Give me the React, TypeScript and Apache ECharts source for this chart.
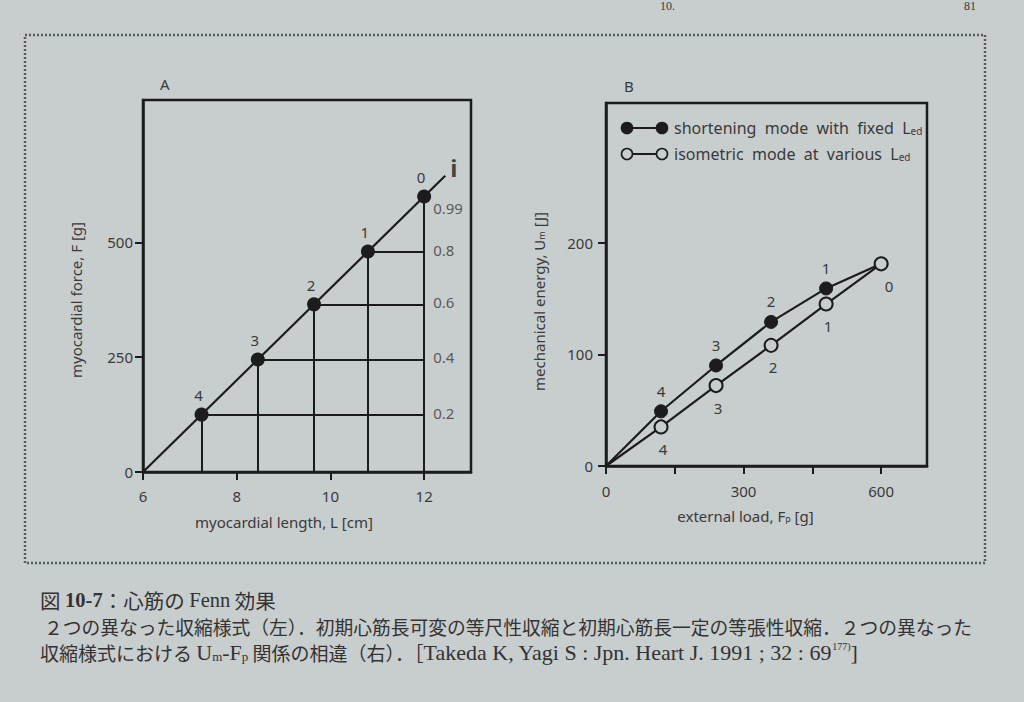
import React, { useEffect, useRef } from 'react';
import * as echarts from 'echarts';

// ---------- Panel A data ----------
const A_LENGTH = [7.25, 8.45, 9.65, 10.8, 12];
const A_FORCE = [125, 245, 365, 480, 600];
const A_POINT_LABELS = ['4', '3', '2', '1', '0'];
const A_RATIO_LABELS = ['0.2', '0.4', '0.6', '0.8', '0.99'];
const A_LINE_START = [6, 0];
const A_LINE_END = [12.45, 645];
const A_X_TICKS = [6, 8, 10, 12];
const A_Y_TICKS = [0, 250, 500];

// ---------- Panel B data ----------
const B_LOAD = [0, 120, 240, 360, 480, 600];
const B_SHORTENING = [0, 49, 90, 129, 159, 181];
const B_ISOMETRIC = [0, 35, 72, 108, 145, 181];
const B_SHORT_LABELS = ['', '4', '3', '2', '1', ''];
const B_ISO_LABELS = ['', '4', '3', '2', '1', '0'];
const B_X_TICKS = [0, 150, 300, 450, 600];
const B_X_LABELS = [0, 300, 600];
const B_Y_TICKS = [0, 100, 200];

const BG = '#c8cdce';
const INK = '#1c1c1c';
const TEXT = '#3a3a3a';
const FONT = "'Noto Sans', 'DejaVu Sans', sans-serif";
const CAP_FONT = "'Liberation Serif', 'Noto Sans CJK JP', serif";
const CJK_FONT = "'Noto Sans CJK JP', serif";

function buildOption() {
  const lastL = A_LENGTH[A_LENGTH.length - 1];
  const gridLines: any[] = [];
  A_LENGTH.forEach((l, i) => {
    gridLines.push([{ coord: [l, A_FORCE[i]] }, { coord: [l, 0] }]);
    if (l !== lastL) gridLines.push([{ coord: [l, A_FORCE[i]] }, { coord: [lastL, A_FORCE[i]] }]);
  });

  const axisCommon = (ticks: number[], labels: number[]) => ({
    type: 'value',
    axisLine: { show: true, onZero: false, lineStyle: { color: INK, width: 2.5 } },
    axisTick: { show: true, length: 8, lineStyle: { color: INK, width: 2 }, customValues: ticks },
    axisLabel: { customValues: labels, fontSize: 15, color: TEXT, fontFamily: FONT },
    splitLine: { show: false },
  });

  const legendItem = (y: number, filled: boolean, rich: string) => ({
    type: 'group',
    children: [
      { type: 'line', shape: { x1: 627, y1: y, x2: 662, y2: y }, style: { stroke: INK, lineWidth: 2 } },
      { type: 'circle', shape: { cx: 627, cy: y, r: 5.5 }, style: { fill: filled ? INK : BG, stroke: INK, lineWidth: 1.6 } },
      { type: 'circle', shape: { cx: 662, cy: y, r: 5.5 }, style: { fill: filled ? INK : BG, stroke: INK, lineWidth: 1.6 } },
      {
        type: 'text', x: 674, y,
        style: {
          text: rich, fontSize: 16, fill: TEXT, fontFamily: FONT, verticalAlign: 'middle',
          rich: { s: { fontSize: 10, fill: TEXT, fontFamily: FONT, verticalAlign: 'bottom', padding: [6, 0, 0, 0] } },
        },
      },
    ],
  });

  return {
    animation: false,
    backgroundColor: BG,
    textStyle: { fontFamily: FONT },
    grid: [
      { left: 143, top: 100, width: 328, height: 372, show: true, borderColor: INK, borderWidth: 2.5, backgroundColor: 'transparent' },
      { left: 606, top: 103, width: 321, height: 363, show: true, borderColor: INK, borderWidth: 2.5, backgroundColor: 'transparent' },
    ],
    xAxis: [
      {
        ...axisCommon(A_X_TICKS, A_X_TICKS), gridIndex: 0, min: 6, max: 13,
        axisLabel: { customValues: A_X_TICKS, fontSize: 15, color: TEXT, fontFamily: FONT, margin: 16 },
        name: 'myocardial length, L [cm]', nameLocation: 'middle', nameGap: 42,
        nameTextStyle: { fontSize: 15, color: TEXT, fontFamily: FONT, padding: [0, 46, 0, 0] },
      },
      {
        ...axisCommon(B_X_TICKS, B_X_LABELS), gridIndex: 1, min: 0, max: 700,
        axisLabel: { customValues: B_X_LABELS, fontSize: 15, color: TEXT, fontFamily: FONT, margin: 17 },
        name: 'external load, F{s|p} [g]', nameLocation: 'middle', nameGap: 42,
        nameTextStyle: {
          fontSize: 15, color: TEXT, fontFamily: FONT, padding: [0, 42, 0, 0],
          rich: { s: { fontSize: 9, color: TEXT, fontFamily: FONT, verticalAlign: 'bottom', padding: [6, 0, 0, 0] } },
        },
      },
    ],
    yAxis: [
      {
        ...axisCommon(A_Y_TICKS, A_Y_TICKS), gridIndex: 0, min: 0, max: 810,
        axisLabel: { customValues: A_Y_TICKS, fontSize: 15, color: TEXT, fontFamily: FONT, margin: 10 },
        name: 'myocardial force, F [g]', nameLocation: 'middle', nameGap: 60,
        nameTextStyle: { fontSize: 15, color: TEXT, fontFamily: FONT, padding: [0, 28, 0, 0] },
      },
      {
        ...axisCommon(B_Y_TICKS, B_Y_TICKS), gridIndex: 1, min: 0, max: 325,
        axisLabel: { customValues: B_Y_TICKS, fontSize: 15, color: TEXT, fontFamily: FONT, margin: 13 },
        name: 'mechanical energy, U{s|m} [J]', nameLocation: 'middle', nameGap: 60,
        nameTextStyle: {
          fontSize: 15, color: TEXT, fontFamily: FONT, padding: [0, 34, 0, 0],
          rich: { s: { fontSize: 9, color: TEXT, fontFamily: FONT, verticalAlign: 'bottom', padding: [6, 0, 0, 0] } },
        },
      },
    ],
    series: [
      // Panel A: force-length line
      {
        type: 'line', xAxisIndex: 0, yAxisIndex: 0, data: [A_LINE_START, A_LINE_END],
        showSymbol: false, symbol: 'none', lineStyle: { color: INK, width: 2.2 }, z: 3, silent: true,
      },
      // Panel A: points with grid lines
      {
        type: 'scatter', xAxisIndex: 0, yAxisIndex: 0,
        data: A_LENGTH.map((l, i) => [l, A_FORCE[i]]),
        symbol: 'circle', symbolSize: 14, itemStyle: { color: INK, opacity: 1 }, z: 5,
        label: {
          show: true, position: 'top', distance: 5, offset: [-3, 0], fontSize: 15, color: TEXT, fontFamily: FONT,
          formatter: (p: any) => A_POINT_LABELS[p.dataIndex],
        },
        markLine: {
          silent: true, symbol: ['none', 'none'], label: { show: false },
          lineStyle: { color: INK, width: 2, type: 'solid', opacity: 1 }, data: gridLines,
        },
      },
      // Panel A: ratio labels on right
      {
        type: 'scatter', xAxisIndex: 0, yAxisIndex: 0,
        data: A_FORCE.map((f, i) => ({
          value: [lastL, f],
          label: { offset: i === A_FORCE.length - 1 ? [0, 12] : [0, -2] },
        })),
        symbolSize: 0, silent: true,
        label: {
          show: true, position: 'right', distance: 9, fontSize: 15, color: TEXT, fontFamily: FONT,
          formatter: (p: any) => A_RATIO_LABELS[p.dataIndex],
        },
      },
      // Panel A: "i" label at the end of line
      {
        type: 'scatter', xAxisIndex: 0, yAxisIndex: 0, data: [A_LINE_END], symbolSize: 0, silent: true,
        label: {
          show: true, position: 'right', distance: 5, offset: [0, -8], formatter: 'i',
          fontSize: 24, fontWeight: 'bold', color: INK, fontFamily: FONT,
        },
      },
      // Panel B: shortening mode
      {
        type: 'line', name: 'shortening mode with fixed Led', xAxisIndex: 1, yAxisIndex: 1,
        data: B_LOAD.map((x, i) => ({ value: [x, B_SHORTENING[i]], symbolSize: i === 0 ? 0 : 13 })),
        symbol: 'circle', showSymbol: true, lineStyle: { color: INK, width: 2.2 },
        itemStyle: { color: INK, borderColor: INK, borderWidth: 1 }, z: 3,
        label: {
          show: true, position: 'top', distance: 6, fontSize: 15, color: TEXT, fontFamily: FONT,
          formatter: (p: any) => B_SHORT_LABELS[p.dataIndex],
        },
      },
      // Panel B: isometric mode
      {
        type: 'line', name: 'isometric mode at various Led', xAxisIndex: 1, yAxisIndex: 1,
        data: B_LOAD.map((x, i) => ({
          value: [x, B_ISOMETRIC[i]], symbolSize: i === 0 ? 0 : 13,
          label: { offset: i === B_LOAD.length - 1 ? [8, 0] : [2, 0] },
        })),
        symbol: 'circle', showSymbol: true, lineStyle: { color: INK, width: 2.2 },
        itemStyle: { color: BG, borderColor: INK, borderWidth: 2 }, z: 4,
        label: {
          show: true, position: 'bottom', distance: 7, fontSize: 15, color: TEXT, fontFamily: FONT,
          formatter: (p: any) => B_ISO_LABELS[p.dataIndex],
        },
      },
    ],
    graphic: [
      {
        type: 'rect', shape: { x: 25, y: 35, width: 960, height: 528 }, z: -1, silent: true,
        style: { fill: 'none', stroke: '#5a5a5a', lineWidth: 2.5, lineDash: [2, 2] },
      },
      { type: 'text', x: 160, y: 76, style: { text: 'A', fontSize: 15, fill: TEXT, fontFamily: FONT } },
      { type: 'text', x: 624, y: 78, style: { text: 'B', fontSize: 15, fill: TEXT, fontFamily: FONT } },
      legendItem(128, true, 'shortening  mode  with  fixed  L{s|ed}'),
      legendItem(154, false, 'isometric  mode  at  various  L{s|ed}'),
      // running header (at the top edge of the page)
      { type: 'text', x: 660, y: 0, style: { text: '10.', fontSize: 12, fill: TEXT, fontFamily: CAP_FONT } },
      { type: 'text', x: 964, y: 0, style: { text: '81', fontSize: 12, fill: TEXT, fontFamily: CAP_FONT } },
      // caption
      {
        type: 'text', x: 40, y: 600,
        style: {
          text: '{c|図 }{b|10-7}{c|：心筋の }{l|Fenn}{c| 効果}', verticalAlign: 'middle',
          rich: {
            c: { fontSize: 20.5, fill: '#333', fontFamily: CJK_FONT },
            l: { fontSize: 20.5, fill: '#333', fontFamily: CAP_FONT },
            b: { fontSize: 20.5, fill: '#333', fontFamily: CAP_FONT, fontWeight: 'bold' },
          },
        },
      },
      {
        type: 'text', x: 44, y: 626,
        style: {
          text: '２つの異なった収縮様式（左）．初期心筋長可変の等尺性収縮と初期心筋長一定の等張性収縮．２つの異なった',
          fontSize: 18.75, fill: '#333', fontFamily: CJK_FONT, verticalAlign: 'middle',
        },
      },
      {
        type: 'text', x: 40, y: 652,
        style: {
          text: '{c|収縮様式における }{l|U}{s|m}{l|-F}{s|p}{c| 関係の相違（右）．［}{l|Takeda K, Yagi S : Jpn. Heart J. 1991 ; 32 : 69}{u|177)}{l|]}',
          verticalAlign: 'middle',
          rich: {
            c: { fontSize: 19, fill: '#333', fontFamily: CJK_FONT },
            l: { fontSize: 22, fill: '#333', fontFamily: CAP_FONT },
            s: { fontSize: 13, fill: '#333', fontFamily: CAP_FONT, verticalAlign: 'bottom', padding: [8, 0, 0, 0] },
            u: { fontSize: 10, fill: '#333', fontFamily: CAP_FONT, verticalAlign: 'top', padding: [0, 0, 8, 0] },
          },
        },
      },
    ],
  };
}

export default function App() {
  const ref = useRef<HTMLDivElement>(null);
  useEffect(() => {
    if (!ref.current) return;
    const chart = echarts.init(ref.current, null, { renderer: 'svg' });
    chart.setOption(buildOption() as any);
    return () => chart.dispose();
  }, []);
  return <div ref={ref} style={{ position: 'absolute', left: 0, top: 0, width: 1024, height: 702 }} />;
}
